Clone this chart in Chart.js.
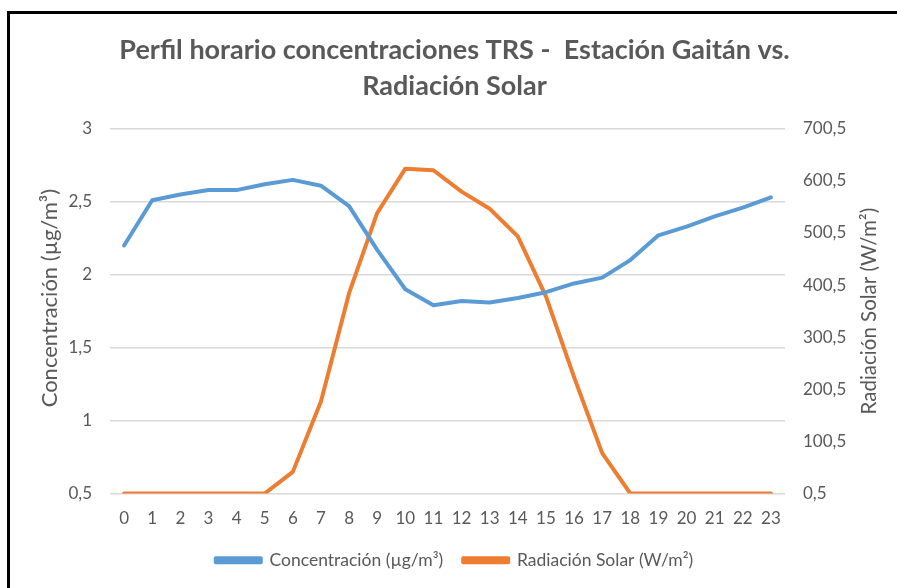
<!DOCTYPE html>
<html>
<head>
<meta charset="utf-8">
<script src="https://cdn.jsdelivr.net/npm/chart.js@4/dist/chart.umd.min.js"></script>
<style>
  body { margin: 0; background: #fff; }
  #wrap { position: relative; width: 897px; height: 588px; }
  #frame { position: absolute; left: 7px; top: 11px; right: -5px; bottom: -5px;
           border-top: 3px solid #000; border-left: 3px solid #000; pointer-events: none; }
</style>
</head>
<body>
<div id="wrap">
  <canvas id="myChart" width="897" height="588"></canvas>
  <div id="frame"></div>
</div>
<script>
let hours = ["0","1","2","3","4","5","6","7","8","9","10","11","12","13","14","15","16","17","18","19","20","21","22","23"];
let concentracion = [2.2, 2.51, 2.55, 2.58, 2.58, 2.62, 2.65, 2.61, 2.47, 2.17, 1.9, 1.79, 1.82, 1.81, 1.84, 1.88, 1.94, 1.98, 2.1, 2.27, 2.33, 2.4, 2.46, 2.53];
let radiacion = [0.5, 0.5, 0.5, 0.5, 0.5, 0.5, 42, 177, 385, 539, 624, 621, 580, 547, 494, 379, 224, 78, 0.5, 0.5, 0.5, 0.5, 0.5, 0.5];
let leftTicks = [0.5, 1, 1.5, 2, 2.5, 3];
let rightTicks = [0.5, 100.5, 200.5, 300.5, 400.5, 500.5, 600.5, 700.5];

const gray = "#595959";
const fontFamily = "Lato, 'Open Sans', sans-serif";
const comma = v => String(v).replace(".", ",");

// both axis titles read bottom-to-top, drawn by hand
function verticalText(ctx, text, x, y, size) {
  ctx.save();
  ctx.translate(x, y);
  ctx.rotate(-Math.PI / 2);
  ctx.font = size + "px " + fontFamily;
  ctx.fillStyle = gray;
  ctx.textAlign = "center";
  ctx.textBaseline = "middle";
  ctx.fillText(text, 0, 0);
  ctx.restore();
}

const axisTitles = {
  id: "axisTitles",
  afterDraw(chart) {
    const area = chart.chartArea;
    const mid = (area.top + area.bottom) / 2;
    verticalText(chart.ctx, "Concentración (µg/m³)", 50, mid - 13, 22);
    verticalText(chart.ctx, "Radiación Solar (W/m²)", 869, mid, 20.5);
  }
};

let ctx = document.getElementById("myChart").getContext("2d");
let myChart = new Chart(ctx, {
  type: "line",
  data: {
    labels: hours,
    datasets: [
      {
        label: "Concentración (µg/m³)",
        data: concentracion,
        borderColor: "#5B9BD5",
        backgroundColor: "#5B9BD5",
        borderWidth: 4,
        yAxisID: "y"
      },
      {
        label: "Radiación Solar (W/m²)",
        data: radiacion,
        borderColor: "#ED7D31",
        backgroundColor: "#ED7D31",
        borderWidth: 4,
        yAxisID: "y1"
      }
    ]
  },
  options: {
    responsive: false,
    animation: false,
    layout: { padding: { top: 0, bottom: 9, left: 12, right: 0 } },
    elements: {
      point: { radius: 0, hoverRadius: 0 },
      line: { tension: 0, borderCapStyle: "round", borderJoinStyle: "round" }
    },
    plugins: {
      title: {
        display: true,
        text: ["Perfil horario concentraciones TRS -  Estación Gaitán vs.", "Radiación Solar"],
        color: gray,
        font: { family: fontFamily, size: 27, weight: "bold", lineHeight: 1.33 },
        padding: { top: 32, bottom: 25 }
      },
      legend: {
        position: "bottom",
        labels: {
          color: gray,
          font: { family: fontFamily, size: 17.5 },
          boxWidth: 45,
          boxHeight: 4,
          padding: 20
        }
      },
      tooltip: { enabled: false }
    },
    scales: {
      x: {
        offset: true,
        afterFit: axis => { axis.height = 38; },
        grid: { display: false, drawTicks: false },
        border: { display: false },
        ticks: { color: gray, font: { family: fontFamily, size: 17 }, padding: 15, maxRotation: 0 }
      },
      y: {
        position: "left",
        min: 0.5,
        max: 3,
        afterBuildTicks: axis => { axis.ticks = leftTicks.map(v => ({ value: v })); },
        afterFit: axis => { axis.width = 98; },
        grid: { color: "#D9D9D9", lineWidth: 1.5, drawTicks: false },
        border: { display: false },
        ticks: { color: gray, font: { family: fontFamily, size: 17 }, padding: 18, callback: comma }
      },
      y1: {
        position: "right",
        min: 0.5,
        max: 700.5,
        afterBuildTicks: axis => { axis.ticks = rightTicks.map(v => ({ value: v })); },
        afterFit: axis => { axis.width = 112; },
        grid: { display: false, drawTicks: false },
        border: { display: false },
        ticks: { color: gray, font: { family: fontFamily, size: 17 }, padding: 18, callback: comma }
      }
    }
  },
  plugins: [axisTitles]
});
</script>
</body>
</html>
